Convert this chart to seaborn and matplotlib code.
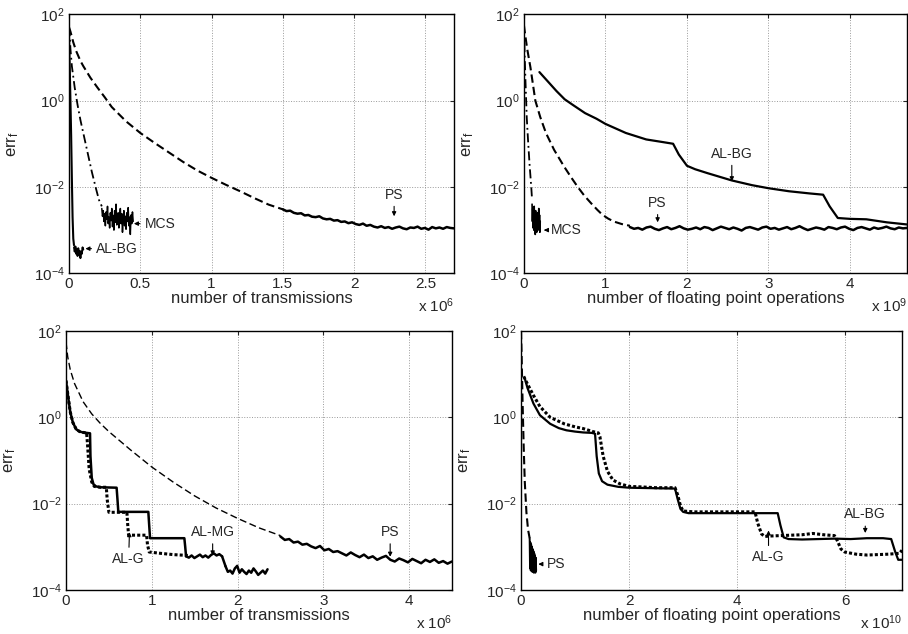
import numpy as np
import seaborn as sns
import matplotlib.pyplot as plt
from matplotlib.ticker import FixedLocator, NullLocator

# all y values are log10(err_f); x in units of the "x 10^k" factor of each panel

# ---------- top left: transmissions (x 1e6)
tl_ps_x = [0, 0.01, 0.03, 0.05, 0.08, 0.1, 0.15, 0.2, 0.25, 0.3, 0.4, 0.5, 0.6, 0.7,
           0.8, 0.9, 1.0, 1.1, 1.2, 1.3, 1.4, 1.5]
tl_ps_y = [1.7, 1.6, 1.35, 1.15, 0.92, 0.8, 0.53, 0.3, 0.08, -0.15, -0.48, -0.75, -0.98, -1.2,
           -1.42, -1.62, -1.79, -1.95, -2.1, -2.26, -2.41, -2.52]
tl_ps_tail = [-2.52, -2.56, -2.55, -2.6, -2.62, -2.61, -2.66, -2.65, -2.69, -2.7, -2.68, -2.73,
              -2.75, -2.74, -2.78, -2.77, -2.81, -2.8, -2.84, -2.82, -2.86, -2.88, -2.85, -2.9,
              -2.88, -2.92, -2.94, -2.91, -2.95, -2.93, -2.97, -2.94, -2.92, -2.96, -2.98, -2.94,
              -2.95, -2.92, -2.97, -2.95, -2.99, -2.93, -2.96, -2.94, -2.97, -2.93, -2.95, -2.96]
tl_mcs_x = [0, 0.005, 0.01, 0.02, 0.04, 0.06, 0.08, 0.1, 0.13, 0.16, 0.19, 0.21, 0.23]
tl_mcs_y = [1.7, 1.5, 1.2, 0.8, 0.3, -0.1, -0.45, -0.75, -1.2, -1.65, -2.05, -2.3, -2.45]
tl_mcs_noise = [-2.5, -2.68, -2.55, -2.8, -2.62, -2.9, -2.58, -2.75, -2.45, -2.85, -2.7, -2.95,
                -2.6, -2.78, -2.5, -2.92, -2.66, -3.0, -2.55, -2.82, -2.4, -2.88, -2.72, -2.6,
                -2.95, -2.7, -2.5, -2.85, -2.62, -3.05, -2.75, -2.55, -2.9, -2.68, -2.98, -2.6,
                -2.8, -2.48, -2.9, -2.7, -3.1, -2.65, -2.85, -2.58, -2.8]
tl_albg_x = [0, 0.005, 0.01, 0.015, 0.02, 0.025, 0.03, 0.035]
tl_albg_y = [1.5, 0.8, 0.0, -0.8, -1.8, -2.7, -3.2, -3.35]
tl_albg_noise = [-3.4, -3.5, -3.38, -3.55, -3.45, -3.6, -3.42, -3.58, -3.48, -3.65, -3.5,
                 -3.55, -3.4, -3.45]

# ---------- top right: flops (x 1e9)
tr_ps_x = [0, 0.01, 0.04, 0.08, 0.14, 0.2, 0.27, 0.37, 0.49, 0.58, 0.66, 0.74, 0.82, 0.9,
           0.96, 1.03, 1.1, 1.2, 1.3]
tr_ps_y = [1.75, 1.6, 1.2, 0.77, 0.0, -0.38, -0.75, -1.14, -1.52, -1.78, -2.0, -2.2, -2.37,
           -2.53, -2.64, -2.73, -2.8, -2.86, -2.9]
tr_ps_tail = [-2.93, -2.97, -2.95, -2.99, -2.94, -2.92, -2.97, -3.0, -2.96, -2.93, -2.98, -2.95,
              -2.91, -2.96, -2.99, -2.97, -2.94, -2.98, -2.93, -2.95, -3.0, -2.96, -2.92, -2.95,
              -2.98, -2.94, -2.97, -3.01, -2.95, -2.93, -2.96, -2.99, -2.94, -2.92, -2.97, -2.95,
              -2.99, -2.96, -2.93, -2.98, -2.95, -2.91, -2.96, -3.0, -2.97, -2.94, -2.96, -2.99,
              -2.93, -2.95, -2.98, -2.94, -2.92, -2.97, -3.0, -2.95, -2.93, -2.96, -2.99, -2.94,
              -2.97, -2.95, -2.92, -2.96, -2.98, -2.94, -2.96, -2.95]
tr_mcs_x = [0, 0.01, 0.02, 0.035, 0.05, 0.07, 0.09, 0.1]
tr_mcs_y = [1.75, 1.0, 0.4, -0.4, -0.9, -1.5, -2.0, -2.3]
tr_mcs_noise = [-2.4, -2.8, -2.5, -2.95, -2.6, -3.0, -2.45, -2.9, -2.7, -3.1, -2.55, -2.85,
                -2.65, -3.05, -2.75, -2.9, -2.6, -3.0, -2.7, -2.5, -2.95, -2.65, -3.05, -2.8]
tr_albg_x = [0.19, 0.3, 0.4, 0.5, 0.6, 0.75, 0.89, 1.0, 1.25, 1.5, 1.7, 1.83, 1.9, 2.0, 2.1,
             2.25, 2.55, 2.8, 3.0, 3.25, 3.5, 3.67, 3.75, 3.85, 4.0, 4.2, 4.45, 4.7]
tr_albg_y = [0.66, 0.43, 0.22, 0.03, -0.1, -0.29, -0.42, -0.54, -0.75, -0.9, -0.96, -1.0,
             -1.25, -1.51, -1.59, -1.68, -1.85, -1.96, -2.03, -2.1, -2.15, -2.18, -2.45, -2.72,
             -2.74, -2.75, -2.82, -2.87]

# ---------- bottom left: transmissions (x 1e6)
bl_ps_x = [0, 0.02, 0.05, 0.1, 0.2, 0.3, 0.4, 0.5, 0.75, 1.0, 1.25, 1.5, 1.75, 2.0, 2.25, 2.5]
bl_ps_y = [1.74, 1.4, 1.1, 0.78, 0.36, 0.08, -0.14, -0.33, -0.75, -1.15, -1.5, -1.82, -2.1,
           -2.34, -2.56, -2.74]
bl_ps_tail = [-2.76, -2.84, -2.82, -2.9, -2.88, -2.95, -2.93, -2.99, -3.03, -2.98, -3.08, -3.05,
              -3.12, -3.1, -3.15, -3.2, -3.13, -3.19, -3.24, -3.18, -3.26, -3.22, -3.3, -3.25,
              -3.21, -3.3, -3.34, -3.27, -3.31, -3.36, -3.28, -3.33, -3.38, -3.3, -3.35, -3.29,
              -3.37, -3.33, -3.39, -3.34]
bl_almg_x = [0, 0.01, 0.02, 0.03, 0.05, 0.08, 0.12, 0.16, 0.2, 0.24, 0.28, 0.285, 0.3, 0.32,
             0.35, 0.4, 0.59, 0.6, 0.61, 0.96, 0.97, 0.98, 1.38, 1.39, 1.4]
bl_almg_y = [0.85, 0.7, 0.55, 0.4, 0.12, -0.12, -0.28, -0.33, -0.35, -0.36, -0.37, -0.9, -1.4,
             -1.55, -1.6, -1.62, -1.63, -1.9, -2.19, -2.19, -2.5, -2.8, -2.8, -3.0, -3.22]
bl_almg_noise1 = [-3.22, -3.25, -3.2, -3.26, -3.22, -3.18, -3.24, -3.2, -3.25, -3.19, -3.15,
                  -3.2, -3.17, -3.22]
bl_almg_noise2 = [-3.45, -3.58, -3.55, -3.62, -3.5, -3.44, -3.6, -3.52, -3.58, -3.63, -3.55,
                  -3.6, -3.5, -3.57, -3.65, -3.6, -3.55, -3.62, -3.52]
bl_alg_x = [0, 0.01, 0.02, 0.03, 0.05, 0.08, 0.12, 0.16, 0.2, 0.24, 0.25, 0.27, 0.3, 0.33,
            0.4, 0.47, 0.48, 0.5, 0.71, 0.72, 0.73, 0.94, 0.95, 0.97, 1.1, 1.25, 1.42]
bl_alg_y = [0.85, 0.7, 0.55, 0.4, 0.12, -0.12, -0.28, -0.33, -0.35, -0.36, -0.6, -1.2, -1.5,
            -1.6, -1.62, -1.62, -1.9, -2.2, -2.2, -2.5, -2.73, -2.73, -2.95, -3.12, -3.15,
            -3.18, -3.2]

# ---------- bottom right: flops (x 1e10)
br_ps_x = [0, 0.01, 0.03, 0.05, 0.07, 0.1, 0.13, 0.16]
br_ps_y = [2.0, 1.5, 0.3, -0.7, -1.5, -2.2, -2.6, -2.8]
br_ps_noise = [-2.8, -3.5, -2.9, -3.55, -2.95, -3.5, -3.0, -3.58, -3.05, -3.55, -3.1, -3.6,
               -3.15, -3.58, -3.2, -3.6, -3.25, -3.55]
br_albg_x = [0.07, 0.12, 0.23, 0.35, 0.54, 0.7, 0.84, 1.0, 1.15, 1.31, 1.37, 1.4, 1.44, 1.5,
             1.6, 1.8, 2.0, 2.4, 2.85, 2.9, 2.95, 3.0, 3.1, 3.5, 4.0, 4.5, 4.75, 4.8, 4.86,
             4.95, 5.2, 5.5, 5.8, 6.1, 6.4, 6.7, 6.85, 6.92, 6.98, 7.05]
br_albg_y = [0.9, 0.68, 0.32, 0.05, -0.15, -0.25, -0.3, -0.33, -0.35, -0.36, -0.38, -0.9, -1.3,
             -1.48, -1.56, -1.61, -1.63, -1.64, -1.65, -1.9, -2.12, -2.19, -2.22, -2.22,
             -2.22, -2.22, -2.22, -2.5, -2.78, -2.82, -2.83, -2.82, -2.81, -2.82, -2.8, -2.8,
             -2.82, -3.1, -3.3, -3.3]
br_alg_x = [0.05, 0.1, 0.23, 0.35, 0.54, 0.8, 1.0, 1.15, 1.33, 1.43, 1.46, 1.52, 1.6, 1.7,
            1.83, 2.0, 2.2, 2.5, 2.85, 2.9, 2.95, 3.0, 3.2, 3.6, 4.0, 4.33, 4.38, 4.45, 4.51,
            4.6, 4.8, 5.0, 5.2, 5.4, 5.6, 5.8, 5.85, 5.92, 5.99, 6.2, 6.4, 6.6, 6.8, 7.0, 7.05]
br_alg_y = [0.95, 0.82, 0.51, 0.25, 0.0, -0.15, -0.22, -0.26, -0.33, -0.36, -0.45, -0.9,
            -1.25, -1.45, -1.54, -1.6, -1.61, -1.63, -1.63, -1.8, -2.05, -2.17, -2.19, -2.19,
            -2.19, -2.19, -2.45, -2.7, -2.76, -2.75, -2.74, -2.73, -2.72, -2.69, -2.72, -2.74,
            -2.85, -3.05, -3.12, -3.17, -3.19, -3.18, -3.17, -3.15, -3.08]

DASHED = (0, (4, 2))
DASHDOT = (0, (5, 2, 1, 2))
DOTTED = (0, (1, 0.7))


def draw(ax, xs, ys, style, lw):
    sns.lineplot(x=np.asarray(xs, dtype=float), y=10.0 ** np.asarray(ys, dtype=float), ax=ax,
                 color="k", linestyle=style, linewidth=lw, sort=False, estimator=None)


def noisy(x0, x1, vals):
    return np.linspace(x0, x1, len(vals)), vals


def note(ax, label, tip, txt, ha="center", va="center"):
    ax.annotate(label, xy=(tip[0], 10.0 ** tip[1]), xytext=(txt[0], 10.0 ** txt[1]),
                ha=ha, va=va, fontsize=10,
                arrowprops=dict(arrowstyle="-|>", color="k", lw=0.8, mutation_scale=6,
                                shrinkA=1, shrinkB=0))


def style_axes(ax, xmax, xticks, xlabels, xlabel, factor):
    ax.set_yscale("log")
    ax.set_xlim(0, xmax)
    ax.set_ylim(1e-4, 1e2)
    ax.yaxis.set_major_locator(FixedLocator([1e-4, 1e-2, 1e0, 1e2]))
    ax.yaxis.set_minor_locator(NullLocator())
    ax.xaxis.set_major_locator(FixedLocator(xticks))
    ax.set_xticklabels(xlabels)
    ax.grid(True, color="#9a9a9a", linestyle=":", linewidth=0.7)
    ax.tick_params(direction="in", length=3, width=0.8, top=True, right=True,
                   labelsize=11, pad=3)
    for s in ax.spines.values():
        s.set_linewidth(1.0)
        s.set_color("k")
    ax.set_xlabel(xlabel, fontsize=12, labelpad=0)
    ax.set_ylabel(r"$\mathdefault{err_f}$", fontsize=12)
    ax.yaxis.set_label_coords(-0.125, 0.5)
    ax.text(1.0, -0.125, r"x $\mathdefault{10^{%s}}$" % factor, transform=ax.transAxes,
            ha="right", va="center", fontsize=11)


sns.set_style("white")
plt.rcParams["font.family"] = ["Liberation Sans", "DejaVu Sans"]

fig = plt.figure(figsize=(9.08, 6.34), dpi=100)
ax1 = fig.add_axes([0.076, 0.569, 0.424, 0.4085])
ax2 = fig.add_axes([0.577, 0.569, 0.422, 0.4085])
ax3 = fig.add_axes([0.0727, 0.0694, 0.425, 0.4085])
ax4 = fig.add_axes([0.5738, 0.0694, 0.4196, 0.4085])

# top left
draw(ax1, tl_ps_x, tl_ps_y, DASHED, 1.5)
draw(ax1, *noisy(1.5, 2.7, tl_ps_tail), "-", 1.8)
draw(ax1, tl_mcs_x, tl_mcs_y, DASHDOT, 1.3)
draw(ax1, *noisy(0.23, 0.45, tl_mcs_noise), "-", 1.1)
draw(ax1, tl_albg_x, tl_albg_y, "-", 1.5)
draw(ax1, *noisy(0.035, 0.1, tl_albg_noise), "-", 1.4)
style_axes(ax1, 2.7, [0, 0.5, 1, 1.5, 2, 2.5], ["0", "0.5", "1", "1.5", "2", "2.5"],
           "number of transmissions", 6)
note(ax1, "PS", (2.28, -2.68), (2.28, -2.18))
note(ax1, "MCS", (0.455, -2.85), (0.53, -2.85), ha="left")
note(ax1, "AL-BG", (0.115, -3.43), (0.19, -3.43), ha="left")

# top right
draw(ax2, tr_ps_x, tr_ps_y, DASHED, 1.5)
draw(ax2, *noisy(1.3, 4.7, tr_ps_tail), "-", 1.8)
draw(ax2, tr_mcs_x, tr_mcs_y, DASHDOT, 1.3)
draw(ax2, *noisy(0.1, 0.2, tr_mcs_noise), "-", 1.2)
draw(ax2, tr_albg_x, tr_albg_y, "-", 1.6)
style_axes(ax2, 4.7, [0, 1, 2, 3, 4], ["0", "1", "2", "3", "4"],
           "number of floating point operations", 9)
note(ax2, "AL-BG", (2.55, -1.87), (2.55, -1.23))
note(ax2, "PS", (1.64, -2.82), (1.64, -2.37))
note(ax2, "MCS", (0.245, -3.0), (0.33, -3.0), ha="left")

# bottom left
draw(ax3, bl_ps_x, bl_ps_y, (0, (5, 2.5)), 1.0)
draw(ax3, *noisy(2.5, 4.5, bl_ps_tail), "-", 1.8)
draw(ax3, bl_alg_x, bl_alg_y, DOTTED, 2.2)
draw(ax3, bl_almg_x, bl_almg_y, "-", 1.8)
draw(ax3, *noisy(1.4, 1.82, bl_almg_noise1), "-", 1.8)
draw(ax3, [1.82, 1.86], [-3.22, -3.45], "-", 1.8)
draw(ax3, *noisy(1.86, 2.35, bl_almg_noise2), "-", 1.8)
style_axes(ax3, 4.5, [0, 1, 2, 3, 4], ["0", "1", "2", "3", "4"],
           "number of transmissions", 6)
note(ax3, "AL-G", (0.74, -2.66), (0.73, -3.28))
note(ax3, "AL-MG", (1.71, -3.2), (1.71, -2.66))
note(ax3, "PS", (3.78, -3.23), (3.78, -2.66))

# bottom right
draw(ax4, br_ps_x, br_ps_y, DASHED, 1.5)
draw(ax4, *noisy(0.16, 0.28, br_ps_noise), "-", 1.4)
draw(ax4, br_alg_x, br_alg_y, DOTTED, 2.2)
draw(ax4, br_albg_x, br_albg_y, "-", 1.6)
style_axes(ax4, 7.05, [0, 2, 4, 6], ["0", "2", "4", "6"],
           "number of floating point operations", 10)
note(ax4, "PS", (0.32, -3.4), (0.475, -3.4), ha="left")
note(ax4, "AL-G", (4.58, -2.62), (4.58, -3.24))
note(ax4, "AL-BG", (6.37, -2.68), (6.37, -2.25))

fig.savefig("out.png", dpi=100)
